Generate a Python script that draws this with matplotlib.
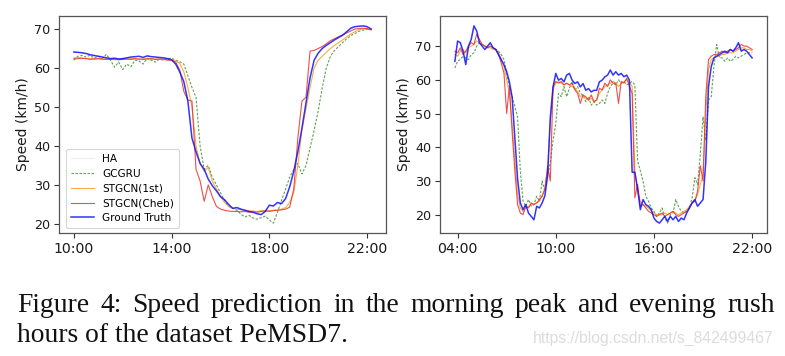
import numpy as np
import matplotlib
matplotlib.use("Agg")
import matplotlib.pyplot as plt
from matplotlib.ticker import FixedLocator, FixedFormatter

# ---------------- data ----------------
# Left panel: 10-minute samples from 10:00 to 22:10
left_start_h = 10.0
left_gt = [
    64.1, 64.0, 63.9, 63.7, 63.4, 63.2,
    63.0, 62.8, 62.6, 62.4, 62.5, 62.3,
    62.4, 62.6, 62.8, 62.9, 63.0, 62.7,
    63.1, 62.9, 62.8, 62.7, 62.6, 62.4,
    62.1, 61.0, 59.0, 56.5, 51.5, 42.0,
    38.5, 35.5, 34.0, 31.5, 29.8, 28.5,
    27.0, 26.2, 25.0, 24.0, 24.2, 23.8,
    23.5, 23.2, 23.0, 22.6, 22.4, 23.2,
    24.8, 24.6, 25.5, 25.2, 26.5, 29.5,
    33.5, 38.5, 44.5, 51.0, 57.5, 62.0,
    63.8, 65.0, 65.8, 66.5, 67.2, 67.8,
    68.4, 69.3, 70.2, 70.6, 70.7, 70.8,
    70.6, 70.0]
left_cheb = [
    62.3, 62.4, 62.5, 62.4, 62.2, 62.3,
    62.4, 62.3, 62.2, 62.2, 62.3, 62.1,
    62.2, 62.3, 62.2, 62.4, 62.3, 62.2,
    62.3, 62.4, 62.2, 62.3, 62.3, 62.0,
    62.0, 61.5, 59.5, 54.0, 51.8, 51.5,
    34.0, 31.0, 25.8, 30.0, 27.0, 24.5,
    23.8, 23.5, 23.3, 23.2, 23.2, 23.1,
    23.2, 23.0, 23.1, 23.0, 23.2, 23.3,
    23.2, 23.4, 23.5, 23.6, 23.8, 24.3,
    29.0, 42.0, 51.5, 52.5, 64.3, 64.5,
    65.0, 65.5, 66.2, 67.0, 67.5, 68.0,
    68.5, 69.0, 69.5, 70.0, 70.1, 70.2,
    70.1, 69.8]
left_1st = [
    62.6, 62.7, 62.5, 62.4, 62.5, 62.3,
    62.4, 62.2, 62.3, 62.2, 62.1, 62.2,
    62.3, 62.2, 62.4, 62.3, 62.2, 62.3,
    62.4, 62.2, 62.3, 62.2, 62.1, 62.2,
    62.0, 61.8, 61.2, 59.0, 55.0, 50.0,
    40.0, 35.5, 33.5, 34.5, 31.0, 29.0,
    27.0, 25.5, 24.5, 24.0, 23.8, 23.6,
    23.5, 23.4, 23.3, 23.2, 23.4, 23.5,
    23.4, 23.5, 23.6, 23.8, 24.2, 25.5,
    28.0, 35.0, 44.0, 49.5, 55.0, 60.0,
    62.0, 63.0, 64.0, 65.0, 65.8, 66.5,
    67.2, 68.0, 68.7, 69.3, 69.8, 70.0,
    70.0, 69.8]
left_gcgru = [
    62.0, 63.0, 63.2, 62.8, 63.3, 62.5,
    63.0, 62.5, 63.5, 62.0, 60.2, 61.5,
    59.6, 61.0, 60.3, 62.0, 61.8, 61.0,
    62.5, 62.0, 61.5, 62.3, 62.0, 62.4,
    62.5, 62.0, 61.6, 61.0, 58.0, 55.0,
    52.5, 40.0, 34.0, 35.0, 32.0, 30.0,
    28.0, 26.0, 24.5, 24.0, 23.5, 22.5,
    21.8, 22.2, 21.5, 21.2, 21.6, 22.0,
    21.0, 20.2, 23.0, 26.0, 29.0, 32.0,
    34.0, 35.5, 32.8, 35.0, 39.5, 44.0,
    49.0, 55.0, 60.0, 63.0, 64.5, 65.5,
    66.5, 67.5, 68.3, 68.8, 69.4, 69.7,
    69.9, 69.8]

# Right panel: 10-minute samples from 03:50 to 22:00
right_start_h = 3 + 50 / 60
right_gt = [
    65.5,
    71.5, 71.0, 68.5, 64.5, 70.0, 72.0,
    76.0, 74.5, 71.0, 70.0, 69.0, 70.0,
    71.0, 69.5, 69.0, 67.5, 66.0, 64.5,
    62.4, 59.4, 54.8, 42.7, 30.6, 23.5,
    21.5, 23.0, 20.5, 19.5, 18.5, 22.5,
    22.0, 23.5, 25.6, 31.6, 48.8, 57.9,
    61.9, 59.9, 60.4, 59.4, 61.4, 61.9,
    59.9, 58.9, 59.4, 57.9, 58.9, 56.9,
    57.4, 56.4, 56.9, 56.9, 59.4, 59.9,
    60.9, 61.4, 62.9, 61.4, 62.4, 61.4,
    61.9, 60.9, 61.4, 59.9, 32.6, 32.6,
    27.6, 21.5, 24.5, 23.0, 22.5, 21.5,
    19.0, 18.0, 17.5, 18.5, 19.5, 18.0,
    19.5, 18.5, 19.5, 18.0, 19.0, 18.5,
    20.5, 22.0, 23.5, 24.5, 22.5, 23.5,
    24.5, 35.7, 57.9, 63.9, 66.5, 67.0,
    67.5, 68.0, 68.5, 68.0, 69.0, 68.5,
    69.5, 71.0, 68.5, 69.0, 68.5, 67.5,
    66.5]
right_cheb = [
    68.5,
    68.0, 69.5, 67.5, 68.5, 70.0, 71.0,
    70.5, 73.5, 72.0, 70.5, 70.0, 69.5,
    70.0, 69.5, 69.0, 67.5, 65.0, 62.0,
    50.0, 58.0, 44.5, 33.0, 23.0, 20.5,
    20.0, 22.5, 22.0, 23.5, 23.0, 23.5,
    24.5, 25.5, 27.5, 34.5, 30.0, 58.0,
    59.5, 59.0, 59.5, 58.5, 59.0, 58.5,
    59.0, 57.0, 56.0, 53.0, 55.5, 55.0,
    54.0, 55.5, 53.5, 54.0, 57.5, 57.0,
    59.0, 58.0, 60.0, 59.0, 59.0, 53.0,
    59.5, 59.0, 60.5, 58.0, 56.0, 25.0,
    29.0, 22.5, 23.0, 22.0, 21.0, 20.5,
    20.0, 19.5, 20.0, 20.5, 19.5, 20.0,
    20.5, 21.0, 20.0, 19.5, 20.0, 20.5,
    21.0, 22.0, 23.5, 24.0, 27.0, 34.5,
    30.0, 55.0, 66.0, 67.0, 67.5, 67.5,
    68.0, 68.5, 68.0, 68.5, 69.0, 68.5,
    69.0, 69.5, 70.5, 70.0, 70.0, 69.5,
    69.0]
right_1st = [
    67.5,
    67.0, 68.5, 69.0, 68.0, 69.5, 70.0,
    70.5, 71.5, 71.0, 70.5, 70.0, 69.5,
    69.5, 69.0, 69.0, 68.0, 66.0, 64.0,
    60.0, 56.0, 47.0, 36.0, 26.0, 22.0,
    21.0, 22.0, 22.5, 23.0, 23.0, 23.5,
    24.0, 25.5, 28.0, 33.0, 48.0, 57.0,
    59.0, 59.5, 59.0, 58.5, 59.0, 58.5,
    58.0, 57.5, 56.5, 55.0, 55.5, 54.5,
    54.0, 54.5, 53.5, 54.0, 56.0, 57.0,
    58.0, 58.5, 59.0, 59.5, 59.0, 58.0,
    59.0, 59.5, 60.0, 59.5, 58.0, 33.0,
    27.0, 24.0, 23.0, 22.5, 22.0, 21.0,
    20.5, 20.0, 20.0, 20.0, 20.5, 20.0,
    20.5, 21.0, 20.5, 20.0, 20.5, 21.0,
    21.5, 22.5, 23.5, 24.0, 26.0, 29.0,
    32.0, 50.0, 63.0, 66.0, 66.5, 67.0,
    67.0, 67.5, 67.5, 68.0, 68.0, 68.0,
    68.5, 69.0, 69.5, 69.5, 69.0, 69.0,
    68.5]
right_gcgru = [
    63.5,
    65.5, 66.0, 67.0, 66.5, 66.0, 67.5,
    68.0, 70.0, 71.0, 70.5, 70.0, 69.5,
    70.0, 69.5, 69.0, 68.5, 67.5, 66.0,
    62.0, 57.5, 55.0, 52.0, 49.0, 33.0,
    24.0, 22.5, 24.5, 22.5, 23.0, 25.5,
    24.0, 30.0, 27.0, 31.5, 35.5, 42.0,
    47.0, 56.0, 55.0, 58.0, 55.0, 57.5,
    59.5, 57.0, 58.0, 56.0, 55.5, 53.5,
    55.0, 52.5, 53.5, 52.5, 53.0, 54.0,
    53.0, 56.0, 58.0, 59.0, 58.5, 60.0,
    59.0, 59.5, 58.5, 59.0, 59.5, 58.5,
    36.0, 33.0, 30.0, 25.5, 24.0, 22.0,
    21.0, 19.5, 20.5, 22.0, 19.0, 17.5,
    20.0, 20.5, 24.5, 22.5, 21.0, 20.5,
    21.0, 22.0, 25.0, 31.0, 29.0, 38.0,
    49.0, 42.0, 54.0, 55.0, 64.0, 70.5,
    66.5, 66.5, 65.5, 66.5, 65.5, 66.0,
    67.0, 66.5, 67.0, 67.5, 68.0, 68.0,
    68.0]

left_ticks_h = [10, 14, 18, 22]
left_tick_labels = ["10:00", "14:00", "18:00", "22:00"]
right_ticks_h = [4, 10, 16, 22]
right_tick_labels = ["04:00", "10:00", "16:00", "22:00"]
legend_labels = ["HA", "GCGRU", "STGCN(1st)", "STGCN(Cheb)", "Ground Truth"]
ylabel = "Speed (km/h)"
caption_line1 = "Figure 4:  Speed prediction in the morning peak and evening rush"
caption_line2 = "hours of the dataset PeMSD7."
watermark = "https://blog.csdn.net/s_842499467"

# ---------------- figure ----------------
W, H = 785, 356
fig = plt.figure(figsize=(W / 100, H / 100), dpi=100)
fig.patch.set_facecolor("white")

def axpos(x0, x1, y0, y1):
    return [x0 / W, 1 - y1 / H, (x1 - x0) / W, (y1 - y0) / H]

axL = fig.add_axes(axpos(59, 386, 16, 233))
axR = fig.add_axes(axpos(440, 767, 16, 233))

def draw(ax, start_h, gt, cheb, first, gcgru, ticks, labels, legend):
    n = len(gt)
    t = start_h + np.arange(n) / 6.0
    ax.plot([], [], color="#dddddd", lw=0.8, alpha=0.5, label=legend_labels[0])
    ax.plot(t, gcgru, color="#3a8a2a", lw=0.8, ls=(0, (2.2, 1.4)), alpha=0.8,
            label=legend_labels[1])
    ax.plot(t, first, color="#f5a020", lw=0.8, alpha=0.85, label=legend_labels[2])
    ax.plot(t, cheb, color="#e83030", lw=0.8, alpha=0.85, label=legend_labels[3])
    ax.plot(t, gt, color="#1010ff", lw=1.1, alpha=0.85, label=legend_labels[4])
    ax.xaxis.set_major_locator(FixedLocator(ticks))
    ax.xaxis.set_major_formatter(FixedFormatter(labels))
    ax.set_yticks([20, 30, 40, 50, 60, 70])
    ax.tick_params(axis="x", labelsize=10.2, length=3.5, width=0.8,
                   colors="#333333", labelcolor="#1a1a1a", pad=3)
    ax.tick_params(axis="y", labelsize=9.2, length=3.5, width=0.8,
                   colors="#333333", labelcolor="#1a1a1a", pad=2.5)
    for s in ax.spines.values():
        s.set_color("#555555")
        s.set_linewidth(0.9)
    ax.set_ylabel(ylabel, fontsize=10, color="#1a1a1a", labelpad=3)
    if legend:
        leg = ax.legend(loc="lower left", fontsize=7.6, frameon=True,
                        handlelength=2.2, borderpad=0.45, labelspacing=0.45,
                        bbox_to_anchor=(0.005, 0.0))
        leg.get_frame().set_edgecolor("#cccccc")
        leg.get_frame().set_linewidth(0.8)

draw(axL, left_start_h, left_gt, left_cheb, left_1st, left_gcgru,
     left_ticks_h, left_tick_labels, True)
draw(axR, right_start_h, right_gt, right_cheb, right_1st, right_gcgru,
     right_ticks_h, right_tick_labels, False)

# ---------------- caption ----------------
fig.canvas.draw()
renderer = fig.canvas.get_renderer()
serif = ["Liberation Serif", "DejaVu Serif"]

def width_px(s, size, family):
    tt = fig.text(0, 0, s, fontsize=size, family=family)
    w = tt.get_window_extent(renderer).width
    tt.remove()
    return w

# font size chosen so that line 2 spans its measured width (17 -> 348 px)
cap_size = 10 * (348 - 17) / width_px(caption_line2, 10, serif)
x_left, x_right = 17, 775
y1_base, y2_base = 312, 342

# justify line 1 across the full width
words = caption_line1.split()
wws = [width_px(w, cap_size, serif) for w in words]
gap = (x_right - x_left - sum(wws)) / (len(words) - 1)
x = x_left
for w, ww in zip(words, wws):
    fig.text(x / W, 1 - y1_base / H, w, fontsize=cap_size, family=serif,
             va="baseline", ha="left", color="#111111")
    x += ww + gap
fig.text(x_left / W, 1 - y2_base / H, caption_line2, fontsize=cap_size,
         family=serif, va="baseline", ha="left", color="#111111")

sans = ["Liberation Sans", "DejaVu Sans"]
wm_size = 10 * (774 - 533) / width_px(watermark, 10, sans)
fig.text(533 / W, 1 - 343 / H, watermark, fontsize=wm_size, family=sans,
         va="baseline", ha="left", color="#dcdcdc")

fig.savefig("out.png", dpi=100, facecolor="white")
